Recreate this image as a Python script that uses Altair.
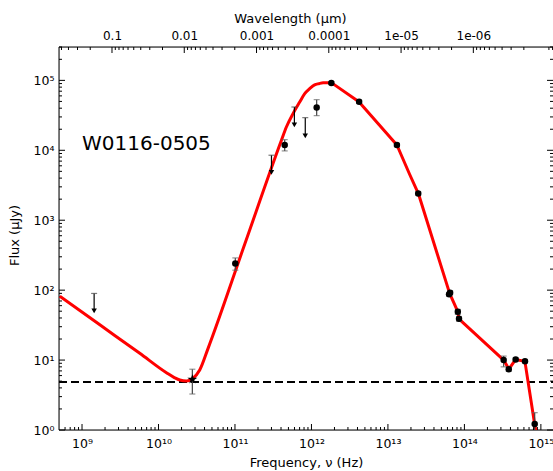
import math
import altair as alt
import pandas as pd

# ---------------- data ----------------
# model curve: smooth far-IR/radio part and the piecewise near-IR/optical part
nu_curve_smooth = [5.12e8, 1.71e9, 5.69e9, 1.27e10, 1.63e10, 1.90e10, 2.32e10, 2.78e10, 3.46e10,
                   4.45e10, 1.34e11, 4.05e11, 4.70e11, 5.74e11, 7.02e11, 8.17e11,
                   9.49e11, 1.10e12, 1.25e12, 1.42e12, 1.84e12]
F_curve_smooth = [82.0, 31.9, 12.5, 6.59, 5.58, 5.18, 5.01, 5.41, 7.20,
                  14.7, 453, 1.39e4, 2.15e4, 3.34e4, 4.90e4, 6.46e4,
                  7.61e4, 8.63e4, 8.97e4, 9.21e4, 9.21e4]
nu_curve_nir = [1.84e12, 4.17e12, 1.31e13, 1.92e13, 2.50e13, 6.41e13, 8.22e13, 8.47e13,
                3.26e14, 3.82e14, 4.68e14, 6.18e14, 8.28e14, 9.06e14]
F_curve_nir = [9.21e4, 4.96e4, 1.19e4, 4540, 2405, 89.8, 49.0, 38.9,
               10.0, 7.44, 10.2, 9.58, 1.22, 0.72]

det_nu = [1.01e11, 4.47e11, 1.17e12, 1.82e12, 4.2e12, 1.31e13, 2.49e13, 6.3e13, 6.5e13,
          8.2e13, 8.5e13, 3.26e14, 3.8e14, 4.68e14, 6.2e14, 8.3e14]
det_F = [240, 1.19e4, 4.1e4, 9.2e4, 4.96e4, 1.19e4, 2406, 87, 92, 49, 39, 10.0, 7.4, 10.2, 9.6, 1.22]
det_lo = [193, 9.8e3, 3.13e4, 8.8e4, 4.7e4, 1.13e4, 2290, 82, 86, 45, 36, 8.0, 6.9, 9.7, 9.1, 0.8]
det_hi = [289, 1.42e4, 5.3e4, 9.6e4, 5.2e4, 1.25e4, 2530, 93, 98, 53, 42, 11.4, 7.9, 10.7, 10.1, 1.77]

star_nu = [2.77e10]
star_F = [5.3]
star_lo = [3.27]
star_hi = [7.4]

ul_nu = [1.44e9, 3.0e11, 5.98e11, 8.3e11]
ul_F = [89.7, 8.5e3, 4.16e4, 2.93e4]
ul_head = [50.5, 4850, 2.31e4, 1.61e4]

floor_F = [4.85]

label_text = ["W0116-0505"]
label_nu = [1e9]
label_F = [1.02e4]

x_major = [1e9, 1e10, 1e11, 1e12, 1e13, 1e14, 1e15]
x_labels = ["10⁹", "10¹⁰", "10¹¹", "10¹²", "10¹³", "10¹⁴", "10¹⁵"]
y_major = [1, 10, 100, 1e3, 1e4, 1e5]
y_labels = ["10⁰", "10¹", "10²", "10³", "10⁴", "10⁵"]
top_major = [0.1, 0.01, 0.001, 1e-4, 1e-5, 1e-6]
top_labels = ["0.1", "0.01", "0.001", "0.0001", "1e-05", "1e-06"]

# ---------------- layout ----------------
W, H = 494, 383
X_DOM = [5e8, 1.44e15]
Y_DOM = [1, 3e5]
TOP_DOM = [7.9e-8, 0.541]
FONT = "DejaVu Sans"


def minor_ticks(lo, hi):
    out = []
    for k in range(-10, 17):
        for m in range(2, 10):
            v = m * 10.0 ** k
            if lo < v < hi:
                out.append(v)
    return out


def lab_expr(vals, labs):
    s = "''"
    for v, l in reversed(list(zip(vals, labs))):
        s = f"abs(log(datum.value)/LN10 - ({math.log10(v):.4f})) < 0.01 ? '{l}' : " + s
    return s


xscale = alt.Scale(type="log", domain=X_DOM, nice=False)
yscale = alt.Scale(type="log", domain=Y_DOM, nice=False)
tscale = alt.Scale(type="log", domain=TOP_DOM, reverse=True, nice=False)

xaxis = alt.Axis(values=x_major, labelExpr=lab_expr(x_major, x_labels), ticks=False, tickSize=0,
                 domain=False, grid=False, title="Frequency, ν (Hz)", labelBaseline="alphabetic",
                 labelPadding=17, labelFlush=False, labelOverlap=False, titleBaseline="alphabetic",
                 titleY=36, labelFontSize=12.5, titleFontSize=13)
yaxis = alt.Axis(values=y_major, labelExpr=lab_expr(y_major, y_labels), ticks=False, tickSize=0,
                 domain=False, grid=False, title="Flux (μJy)", labelBaseline="alphabetic",
                 labelOffset=4, labelPadding=5, labelFlush=False, labelOverlap=False,
                 titleX=-38, titleY=188, titleAngle=-90, titleBaseline="bottom",
                 labelFontSize=12.5, titleFontSize=13)
taxis = alt.Axis(orient="top", values=top_major, labelExpr=lab_expr(top_major, top_labels),
                 ticks=False, tickSize=0, domain=False, grid=False, title="Wavelength (μm)",
                 labelBaseline="alphabetic", labelPadding=8, labelFlush=False, labelOverlap=False,
                 titleX=231, titleY=-25, titleBaseline="alphabetic", titleAlign="center",
                 labelFontSize=12, titleFontSize=13)


def X(f="nu"):
    return alt.X(f"{f}:Q", scale=xscale, axis=xaxis)


def Y(f="F"):
    return alt.Y(f"{f}:Q", scale=yscale, axis=yaxis)


one = pd.DataFrame({"a": [0]})
curve_s_df = pd.DataFrame({"nu": nu_curve_smooth, "F": F_curve_smooth})
curve_n_df = pd.DataFrame({"nu": nu_curve_nir, "F": F_curve_nir})
det_df = pd.DataFrame({"nu": det_nu, "F": det_F, "lo": det_lo, "hi": det_hi})
star_df = pd.DataFrame({"nu": star_nu, "F": star_F, "lo": star_lo, "hi": star_hi})
ul_df = pd.DataFrame({"nu": ul_nu, "F": ul_F, "head": ul_head})
floor_df = pd.DataFrame({"F": floor_F})
text_df = pd.DataFrame({"nu": label_nu, "F": label_F, "t": label_text})

xmaj_df = pd.DataFrame({"nu": x_major})
xmin_df = pd.DataFrame({"nu": minor_ticks(*X_DOM)})
ymaj_df = pd.DataFrame({"F": y_major})
ymin_df = pd.DataFrame({"F": minor_ticks(Y_DOM[0], Y_DOM[1] * 1.001)})
tmaj_df = pd.DataFrame({"lam": top_major})
tmin_df = pd.DataFrame({"lam": minor_ticks(*TOP_DOM)})

tick_c = "black"
layers = []
# bottom ticks
layers.append(alt.Chart(xmaj_df).mark_rule(color=tick_c, strokeWidth=1).encode(
    x=X(), y=alt.value(H), y2=alt.value(H - 6)))
layers.append(alt.Chart(xmin_df).mark_rule(color=tick_c, strokeWidth=1).encode(
    x=X(), y=alt.value(H), y2=alt.value(H - 3)))
# left / right ticks
for x0, sgn in [(0, 1), (W, -1)]:
    layers.append(alt.Chart(ymaj_df).mark_rule(color=tick_c, strokeWidth=1).encode(
        y=Y(), x=alt.value(x0), x2=alt.value(x0 + sgn * 6)))
    layers.append(alt.Chart(ymin_df).mark_rule(color=tick_c, strokeWidth=1).encode(
        y=Y(), x=alt.value(x0), x2=alt.value(x0 + sgn * 3)))
# spines
layers.append(alt.Chart(one).mark_rule(color="black", strokeWidth=1).encode(
    x=alt.value(0), y=alt.value(0), y2=alt.value(H)))
layers.append(alt.Chart(one).mark_rule(color="black", strokeWidth=1).encode(
    x=alt.value(0), x2=alt.value(W), y=alt.value(H)))
layers.append(alt.Chart(one).mark_rule(color="black", strokeWidth=1).encode(
    x=alt.value(0), x2=alt.value(W), y=alt.value(0)))
# flux floor
layers.append(alt.Chart(floor_df).mark_rule(color="black", strokeWidth=2, strokeDash=[8, 4]).encode(
    y=Y(), x=alt.value(0), x2=alt.value(W)))
# model curve
layers.append(alt.Chart(curve_s_df).mark_line(color="#ff0000", strokeWidth=3, clip=True,
                                              interpolate="monotone").encode(x=X(), y=Y()))
layers.append(alt.Chart(curve_n_df).mark_line(color="#ff0000", strokeWidth=3, clip=True,
                                              strokeJoin="round").encode(x=X(), y=Y()))
# error bars
for df in (det_df, star_df):
    layers.append(alt.Chart(df).mark_rule(color="#444444", strokeWidth=1.2, clip=True).encode(
        x=X(), y=Y("lo"), y2="hi:Q"))
    for f in ("lo", "hi"):
        layers.append(alt.Chart(df).mark_point(shape="stroke", size=36, color="#666666",
                                               strokeWidth=1.2, clip=True).encode(x=X(), y=Y(f)))
# upper limits
layers.append(alt.Chart(ul_df).mark_rule(color="black", strokeWidth=1.2).encode(
    x=X(), y=Y(), y2="head:Q"))
layers.append(alt.Chart(ul_df).mark_point(shape="stroke", size=36, color="#444444",
                                          strokeWidth=1.2).encode(x=X(), y=Y()))
layers.append(alt.Chart(ul_df).mark_point(shape="triangle-down", size=30, filled=True,
                                          color="black", opacity=1).encode(x=X(), y=Y("head")))
# detections
layers.append(alt.Chart(det_df).mark_circle(size=42, color="black", opacity=1).encode(x=X(), y=Y()))
star_path = ("M0,-1L0.2245,-0.309L0.951,-0.309L0.363,0.118L0.588,0.809L0,0.382"
             "L-0.588,0.809L-0.363,0.118L-0.951,-0.309L-0.2245,-0.309Z")
layers.append(alt.Chart(star_df).mark_point(shape=star_path, size=110, filled=True,
                                            color="black", opacity=1).encode(x=X(), y=Y()))
# source name
layers.append(alt.Chart(text_df).mark_text(align="left", baseline="alphabetic", fontSize=20,
                                           font=FONT, color="black").encode(
    x=X(), y=Y(), text="t:N"))

bottom = alt.layer(*layers)

top_layers = [
    alt.Chart(tmaj_df).mark_rule(color=tick_c, strokeWidth=1).encode(
        x=alt.X("lam:Q", scale=tscale, axis=taxis), y=alt.value(0), y2=alt.value(6)),
    alt.Chart(tmin_df).mark_rule(color=tick_c, strokeWidth=1, clip=True).encode(
        x=alt.X("lam:Q", scale=tscale, axis=taxis), y=alt.value(0), y2=alt.value(3)),
]
top = alt.layer(*top_layers)

chart = alt.layer(bottom, top).resolve_scale(x="independent").properties(
    width=W, height=H,
    padding={"left": 59, "top": 47, "right": 0, "bottom": 41},
    autosize=alt.AutoSizeParams(type="none"),
).configure_view(stroke=None).configure(font=FONT).configure_axis(
    labelFont=FONT, titleFont=FONT, labelColor="black", titleColor="black",
    titleFontWeight="normal")

chart.save("out.html", embed_options={"renderer": "svg", "actions": False})
